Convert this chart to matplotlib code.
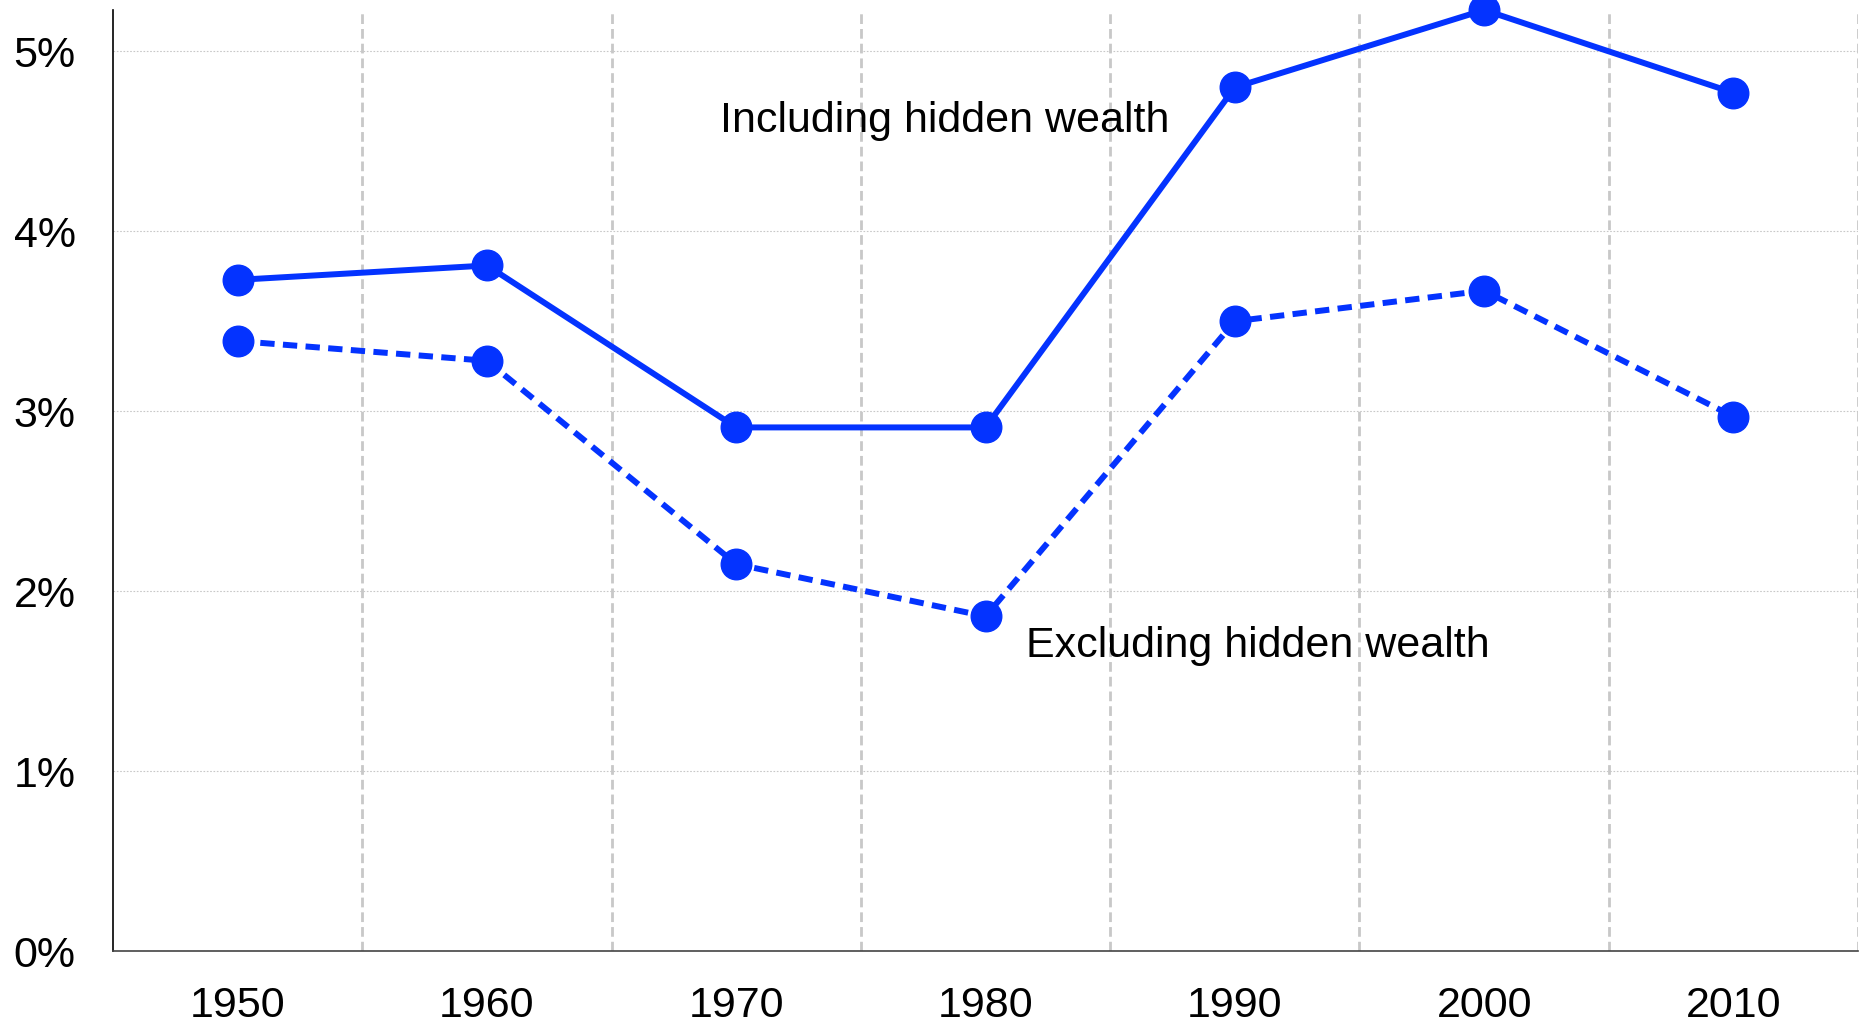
import matplotlib
matplotlib.use("Agg")
import matplotlib.pyplot as plt
from matplotlib.ticker import FixedLocator

plt.rcParams['font.family'] = ['Liberation Sans', 'DejaVu Sans']

years = [1950, 1960, 1970, 1980, 1990, 2000, 2010]
including_hidden = [3.73, 3.81, 2.91, 2.91, 4.80, 5.23, 4.77]
excluding_hidden = [3.39, 3.28, 2.15, 1.86, 3.50, 3.67, 2.97]
y_ticks = [0, 1, 2, 3, 4, 5]
y_tick_labels = ["0%", "1%", "2%", "3%", "4%", "5%"]
minor_x = [1955, 1965, 1975, 1985, 1995, 2005, 2015]

blue = '#0433ff'

fig = plt.figure(figsize=(18.59, 10.29), dpi=100)
ax = fig.add_axes([0.0608, 0.0758, 0.9387, 0.9145])

ax.plot(years, including_hidden, color=blue, lw=4.3, marker='o', ms=22,
        clip_on=False, zorder=5)
ax.plot(years, excluding_hidden, color=blue, lw=4.3, marker='o', ms=22,
        linestyle=(0, (2.4, 1.4)), clip_on=False, zorder=5)

ax.set_xlim(1945, 2015)
ax.set_ylim(0, 5.23)
ax.set_xticks(years)
ax.set_xticklabels([str(y) for y in years])
ax.xaxis.set_minor_locator(FixedLocator(minor_x))
ax.set_yticks(y_ticks)
ax.set_yticklabels(y_tick_labels)

ax.tick_params(axis='both', which='both', length=0, labelsize=31)
ax.tick_params(axis='y', pad=27)
ax.tick_params(axis='x', pad=25)

ax.grid(axis='y', which='major', color='#c8c8c8', lw=0.8, linestyle=(0, (1.5, 1.5)))
ax.grid(axis='x', which='minor', color='#c8c8c8', lw=2.0, linestyle=(0, (3.5, 1.8)))
ax.grid(axis='x', which='major', visible=False)
ax.set_axisbelow(True)

for s in ['top', 'right']:
    ax.spines[s].set_visible(False)
ax.spines['left'].set_linewidth(1.2)
ax.spines['bottom'].set_linewidth(1.2)
ax.spines['bottom'].set_color('#444444')

ax.text(1969.35, 4.55, "Including hidden wealth", fontsize=31, ha='left', va='baseline')
ax.text(1981.62, 1.633, "Excluding hidden wealth", fontsize=31, ha='left', va='baseline')

fig.savefig("out.png", dpi=100)
